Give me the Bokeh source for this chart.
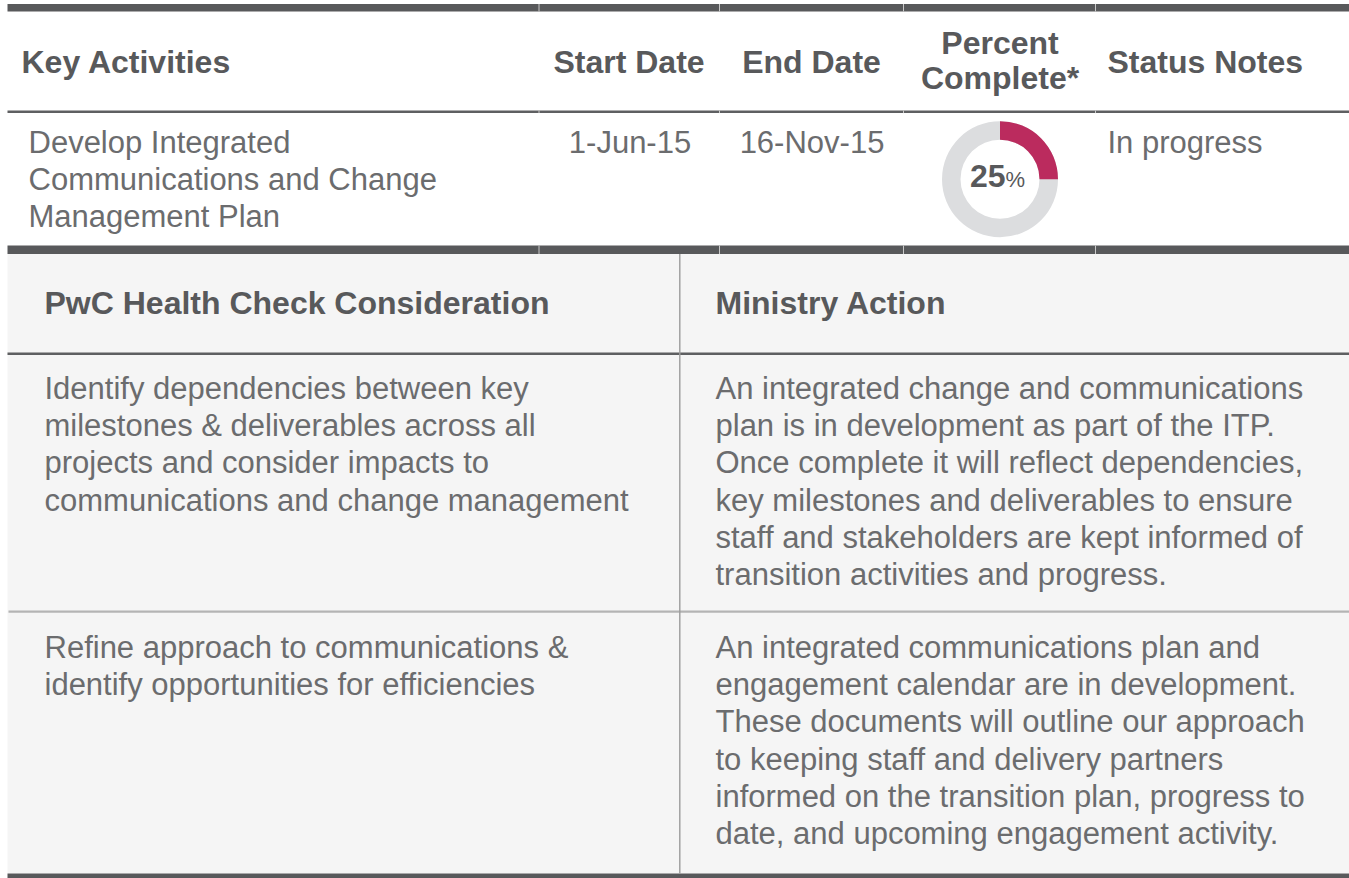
import math
from bokeh.plotting import figure
from bokeh.models import Range1d
from bokeh.core.properties import value
from bokeh.embed import file_html
from bokeh.resources import INLINE

# ---------------- data ----------------
top_headers = ["Key Activities", "Start Date", "End Date", "Status Notes"]
percent_header = ["Percent", "Complete*"]
activity_lines = ["Develop Integrated", "Communications and Change", "Management Plan"]
start_dates = ["1-Jun-15"]
end_dates = ["16-Nov-15"]
percent_complete = [25]
status_notes = ["In progress"]

lower_headers = ["PwC Health Check Consideration", "Ministry Action"]
considerations = [
    ["Identify dependencies between key",
     "milestones & deliverables across all",
     "projects and consider impacts to",
     "communications and change management"],
    ["Refine approach to communications &",
     "identify opportunities for efficiencies"],
]
ministry_actions = [
    ["An integrated change and communications",
     "plan is in development as part of the ITP.",
     "Once complete it will reflect dependencies,",
     "key milestones and deliverables to ensure",
     "staff and stakeholders are kept informed of",
     "transition activities and progress."],
    ["An integrated communications plan and",
     "engagement calendar are in development.",
     "These documents will outline our approach",
     "to keeping staff and delivery partners",
     "informed on the transition plan, progress to",
     "date, and upcoming engagement activity."],
]

# ---------------- style / layout ----------------
FONT = value("Liberation Sans")
DARK = "#58595b"
BODY = "#6b6c6e"
BOLD_PX = 32.0
BODY_PX = 31.0
LINE_H = 37.35
BASE_SHIFT = 0.38  # empirical baseline correction (fraction of font size)

p = figure(width=1349, height=878, x_range=Range1d(0, 1349), y_range=Range1d(878, 0),
           output_backend="svg", toolbar_location=None, min_border=0,
           x_axis_location=None, y_axis_location=None)
p.xgrid.grid_line_color = None
p.ygrid.grid_line_color = None
p.outline_line_color = None
p.background_fill_color = "white"
p.border_fill_color = "white"

L, R = 7, 1349

# lower section background
p.quad(left=[L], right=[R], top=[253], bottom=[873], fill_color="#f5f5f5", line_color=None)

# horizontal rules
p.quad(left=[L] * 4, right=[R] * 4, top=[3.5, 110, 245, 352], bottom=[11, 112.6, 253.5, 354.6],
       fill_color=[DARK, "#5e5f61", DARK, "#5e5f61"], line_color=None)
p.quad(left=[8], right=[R], top=[610], bottom=[612.3], fill_color="#b4b4b4", line_color=None)
p.quad(left=[L], right=[R], top=[873], bottom=[878], fill_color=DARK, line_color=None)
# vertical divider in lower section
p.quad(left=[678.6], right=[680.0], top=[253.5], bottom=[873], fill_color="#9c9c9c", line_color=None)

# faint column ticks across the top rules
col_ticks = [538.5, 719, 903, 1095]
xs, ys = [], []
for cx in col_ticks:
    for (a, b) in [(3.5, 11), (110, 112.6), (245, 253.5)]:
        xs.append([cx, cx])
        ys.append([a, b])
p.multi_line(xs=xs, ys=ys, line_color="#c9c9c9", line_width=1)

def txt(x, y, s, size, bold, color, align="left"):
    p.text(x=[x], y=[y - BASE_SHIFT * size], text=[s], text_font=FONT,
           text_font_size=f"{size}px",
           text_font_style="bold" if bold else "normal", text_color=color,
           text_align=align, text_baseline="alphabetic")

# top header row
txt(21, 73.3, top_headers[0], BOLD_PX, True, DARK)
txt(628.5, 73.3, top_headers[1], BOLD_PX, True, DARK, "center")
txt(811, 73.3, top_headers[2], BOLD_PX, True, DARK, "center")
txt(1107, 73.3, top_headers[3], BOLD_PX, True, DARK)
txt(999.5, 55, percent_header[0], BOLD_PX, True, DARK, "center")
txt(999.5, 90, percent_header[1], BOLD_PX, True, DARK, "center")

# activity row
for i, line in enumerate(activity_lines):
    txt(28, 153.3 + i * LINE_H, line, BODY_PX, False, BODY)
txt(629.5, 153.3, start_dates[0], BODY_PX, False, BODY, "center")
txt(811.5, 153.3, end_dates[0], BODY_PX, False, BODY, "center")
txt(1107, 153.3, status_notes[0], BODY_PX, False, BODY)

# donut
cx, cy, r_in, r_out = 999.5, 178.7, 39.5, 58
p.annulus(x=[cx], y=[cy], inner_radius=r_in, outer_radius=r_out,
          fill_color="#dcdddf", line_color=None)
frac = percent_complete[0] / 100.0
p.annular_wedge(x=[cx], y=[cy], inner_radius=r_in, outer_radius=r_out,
                start_angle=math.pi / 2 - 2 * math.pi * frac, end_angle=math.pi / 2,
                direction="anticlock", fill_color="#bb2b5e", line_color=None)
txt(1005, 187.3, str(percent_complete[0]), 32.0, True, DARK, "right")
txt(1005, 187.3, "%", 22.0, False, DARK, "left")

# lower header row
txt(44, 315, lower_headers[0], BOLD_PX, True, DARK)
txt(715, 315, lower_headers[1], BOLD_PX, True, DARK)

# lower rows
row_first_baseline = [399.5, 658.3]
for r in range(len(considerations)):
    for i, line in enumerate(considerations[r]):
        txt(44, row_first_baseline[r] + i * LINE_H, line, BODY_PX, False, BODY)
    for i, line in enumerate(ministry_actions[r]):
        txt(715, row_first_baseline[r] + i * LINE_H, line, BODY_PX, False, BODY)

open("out.html", "w").write(file_html(p, INLINE))
